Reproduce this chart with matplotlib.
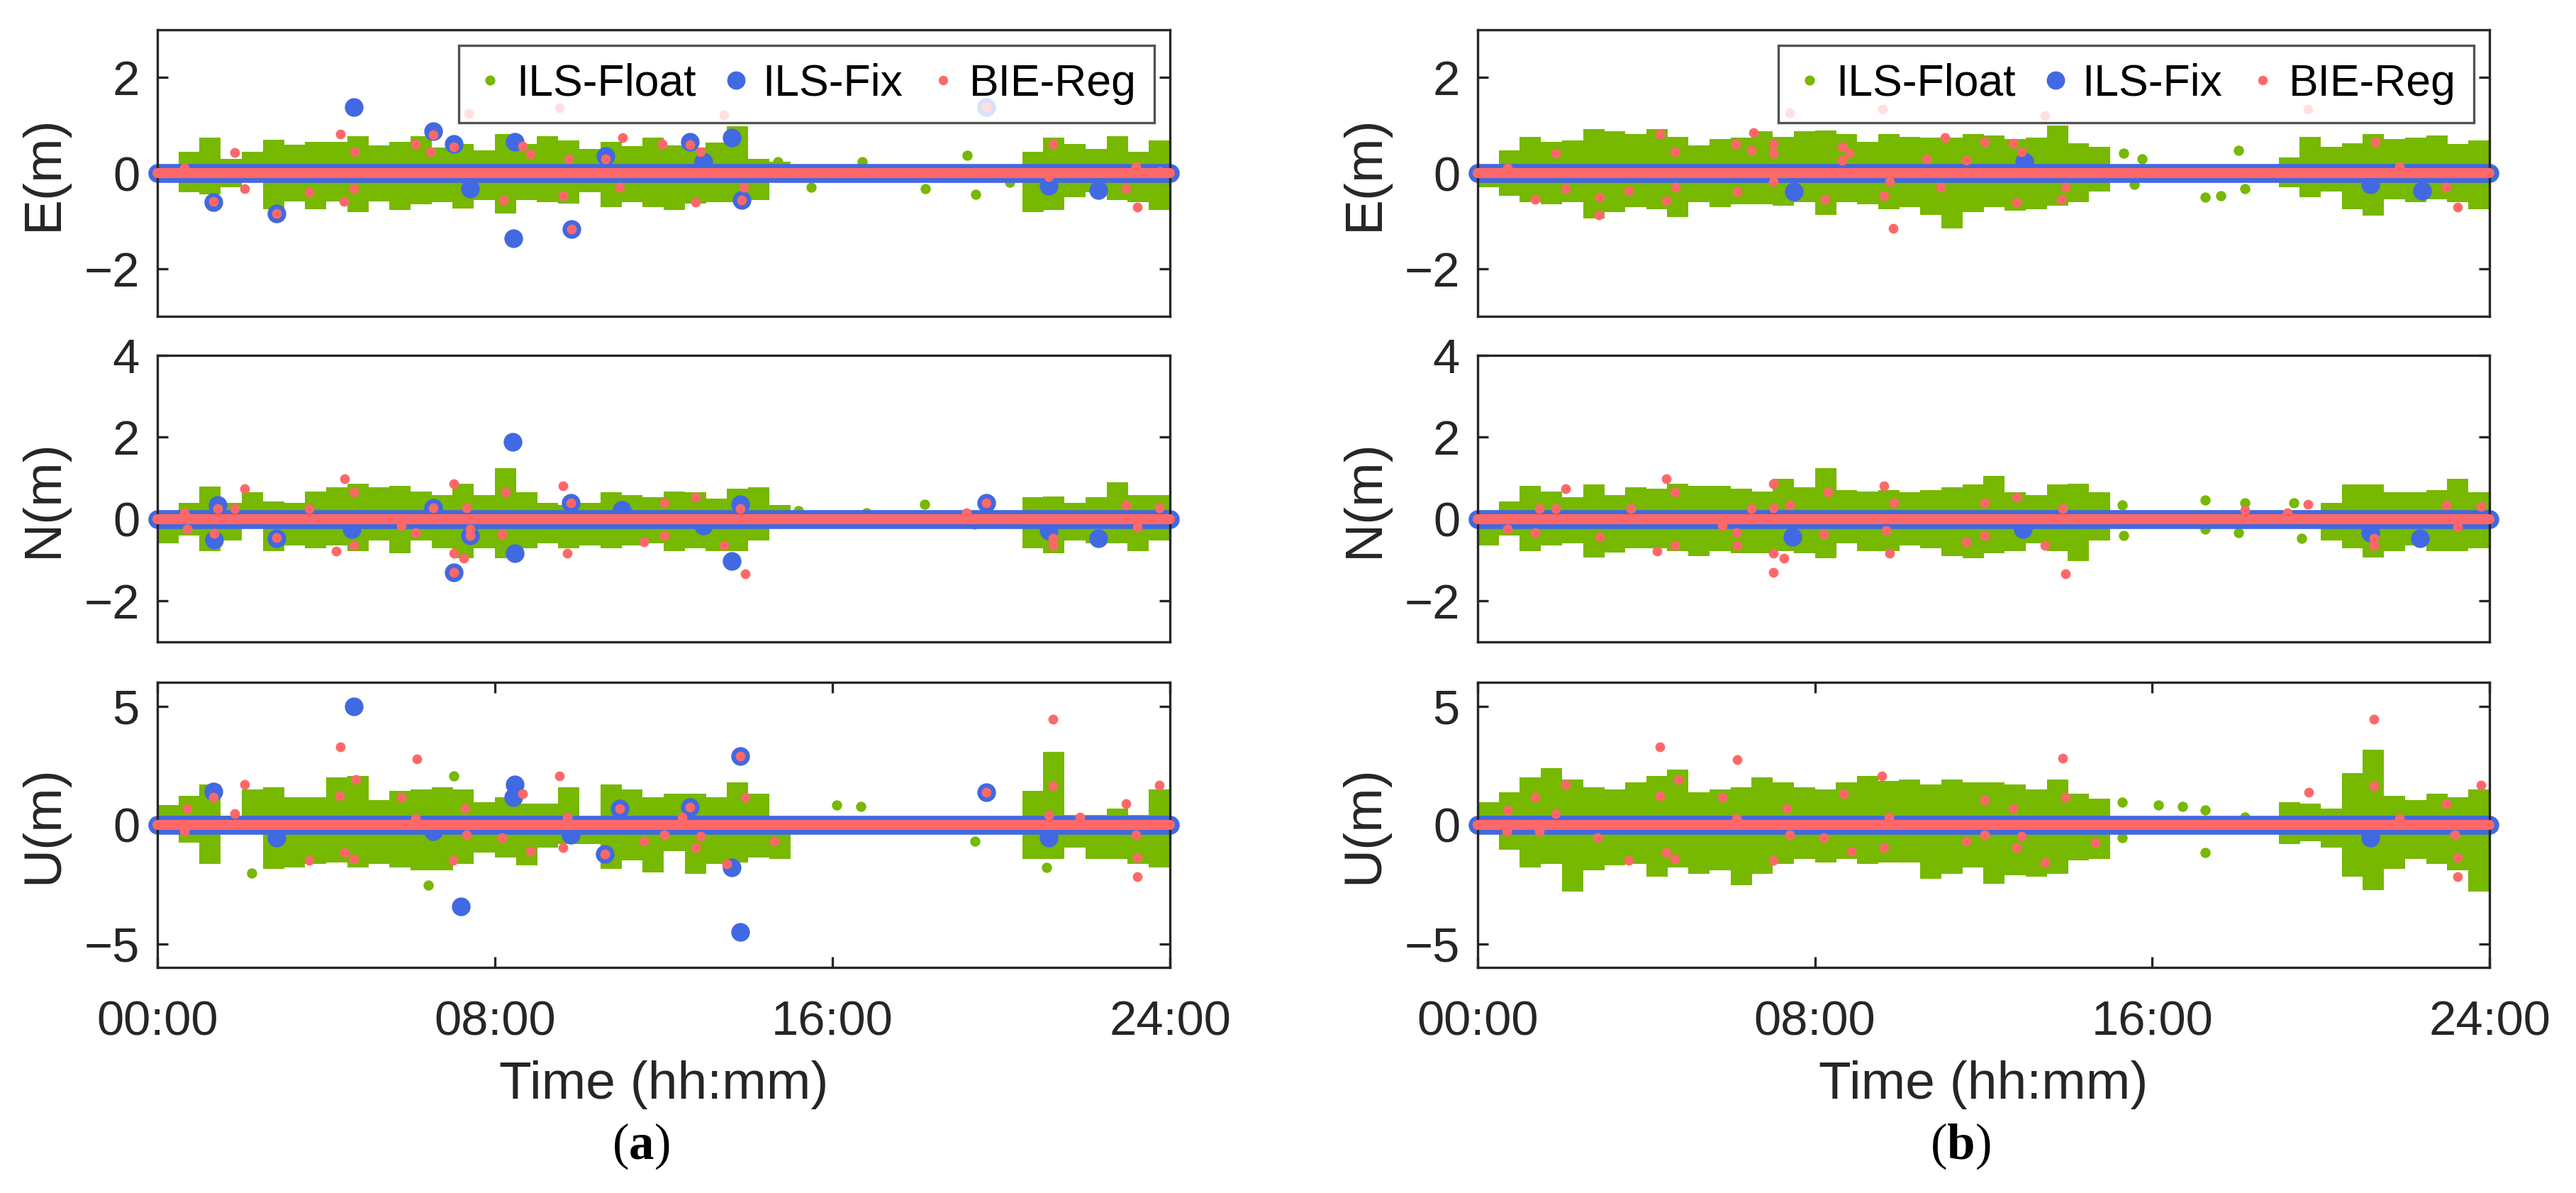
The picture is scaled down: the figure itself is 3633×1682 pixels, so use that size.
import numpy as np
import matplotlib.pyplot as plt
from matplotlib.lines import Line2D

plt.rcParams['font.family'] = ['Liberation Sans', 'DejaVu Sans']
plt.rcParams['mathtext.fontset'] = 'custom'
plt.rcParams['mathtext.bf'] = 'Liberation Serif:bold'
plt.rcParams['mathtext.rm'] = 'Liberation Serif'

# цвета серий
c_float = '#77B800'
c_fix = '#4169E1'
c_reg = '#FF6868'
c_axis = '#262626'

# время, ч: центры 30-минутных интервалов облака ILS-Float
bin_t = np.arange(0.25, 24, 0.5)
tick_pos = [0, 8, 16, 24]
tick_lab = ['00:00', '08:00', '16:00', '24:00']
epoch_t = np.arange(0, 24.01, 0.25)   # эпохи для полосы около нуля
band_level = 0.0

# ---------------- (a) E ----------------
aE_hi = [0.15, 0.45, 0.75, 0.3, 0.45, 0.7, 0.6, 0.65, 0.66, 0.77, 0.58, 0.66,
         0.77, 0.53, 0.61, 0.48, 0.82, 0.61, 0.77, 0.69, 0.5, 0.66, 0.56, 0.74,
         0.58, 0.53, 0.64, 0.98, 0.3, 0.24, 0, 0, 0, 0, 0, 0,
         0, 0, 0, 0, 0.15, 0.45, 0.74, 0.61, 0.5, 0.77, 0.45, 0.69]
aE_lo = [-0.15, -0.4, -0.45, -0.3, -0.2, -0.75, -0.6, -0.75, -0.6, -0.82, -0.6, -0.77,
         -0.66, -0.61, -0.74, -0.56, -0.85, -0.56, -0.61, -0.64, -0.4, -0.72, -0.61, -0.72,
         -0.77, -0.64, -0.61, -0.61, -0.56, -0.15, 0, 0, 0, 0, 0, 0,
         0, 0, 0, 0, -0.15, -0.82, -0.77, -0.5, -0.4, -0.56, -0.61, -0.77]
aE_iso_t = [14.7, 15.5, 16.7, 18.2, 19.2, 19.4, 20.2]
aE_iso_v = [0.24, -0.29, 0.24, -0.32, 0.37, -0.45, -0.2]
aE_fix_t = [1.33, 2.83, 4.65, 6.53, 7.02, 7.42, 8.44, 8.47, 9.82, 10.62, 12.63,
            12.94, 13.61, 13.85, 19.64, 21.13, 22.31]
aE_fix_v = [-0.61, -0.85, 1.38, 0.88, 0.61, -0.32, -1.36, 0.66, -1.17, 0.35, 0.66,
            0.24, 0.74, -0.56, 1.38, -0.27, -0.35]
aE_reg_t = [0.64, 1.84, 2.06, 4.34, 4.68, 4.65, 4.42, 3.59, 6.11, 6.47, 7.38, 8.2,
            8.66, 8.84, 9.53, 9.75, 9.62, 11.02, 10.95, 11.97, 12.75, 12.88, 13.43,
            13.9, 21.22, 21.13, 22.95, 23.23, 23.19, 23.77,
            1.33, 2.83, 6.53, 7.02, 9.82, 10.62, 12.63, 13.85, 19.64]
aE_reg_v = [0.1, 0.43, -0.32, 0.82, 0.45, -0.32, -0.59, -0.4, 0.61, 0.45, 1.25, -0.56,
            0.56, 0.4, 1.36, 0.29, -0.48, 0.74, -0.29, 0.61, -0.61, 0.45, 1.22,
            -0.29, 0.61, -0.08, -0.32, -0.72, 0.13, 0.03,
            -0.6, -0.85, 0.8, 0.55, -1.17, 0.3, 0.6, -0.56, 1.38]

# ---------------- (a) N ----------------
aN_hi = [0.1, 0.4, 0.8, 0.4, 0.65, 0.43, 0.4, 0.68, 0.78, 0.87, 0.78, 0.81,
         0.68, 0.59, 0.87, 0.59, 1.24, 0.65, 0.4, 0.34, 0.4, 0.65, 0.59, 0.53,
         0.68, 0.65, 0.5, 0.75, 0.78, 0.34, 0, 0, 0, 0, 0, 0,
         0, 0, 0, 0, 0, 0.53, 0.56, 0.4, 0.53, 0.9, 0.59, 0.59]
aN_lo = [-0.59, -0.4, -0.78, -0.53, -0.1, -0.78, -0.65, -0.71, -0.65, -0.78, -0.53, -0.84,
         -0.53, -0.71, -0.96, -0.71, -0.96, -0.71, -0.59, -0.71, -0.65, -0.71, -0.65, -0.59,
         -0.78, -0.71, -0.78, -0.78, -0.53, -0.1, 0, 0, 0, 0, 0, 0,
         0, 0, 0, 0, 0, -0.71, -0.84, -0.53, -0.59, -0.59, -0.78, -0.53]
aN_iso_t = [15.2, 16.8, 18.19, 19.36]
aN_iso_v = [0.2, 0.15, 0.37, -0.12]
aN_fix_t = [1.43, 1.34, 2.83, 4.61, 6.53, 7.02, 7.42, 8.42, 8.47, 9.8, 11.0,
            12.94, 13.61, 13.81, 19.64, 21.13, 22.31]
aN_fix_v = [0.34, -0.5, -0.47, -0.25, 0.28, -1.3, -0.4, 1.89, -0.84, 0.4, 0.22,
            -0.16, -1.02, 0.37, 0.4, -0.28, -0.47]
aN_reg_t = [0.64, 0.7, 1.84, 2.06, 3.59, 4.23, 4.44, 4.65, 4.65, 5.78, 6.11, 7.02,
            7.02, 7.26, 7.33, 7.42, 8.17, 8.26, 9.62, 9.71, 11.53, 12.01, 12.01,
            12.76, 13.43, 13.94, 19.18, 21.22, 21.22, 22.95, 23.23, 23.74,
            1.43, 1.34, 2.83, 6.53, 7.02, 7.42, 9.8, 13.81, 19.64]
aN_reg_v = [0.16, -0.25, 0.25, 0.75, 0.25, -0.78, 0.99, 0.65, -0.65, -0.16, -0.34, 0.87,
            -0.84, -0.96, 0.28, -0.25, -0.37, 0.65, 0.81, -0.84, -0.56, 0.4, -0.4,
            0.53, -0.65, -1.34, 0.16, -0.47, -0.65, 0.34, -0.19, 0.28,
            0.25, -0.35, -0.45, 0.28, -1.3, -0.4, 0.4, 0.25, 0.4]

# ---------------- (a) U ----------------
aU_hi = [0.85, 1.23, 1.71, 0.4, 1.5, 1.58, 1.16, 1.16, 1.99, 2.05, 1.03, 1.44,
         1.5, 1.58, 1.5, 0.96, 1.16, 0.89, 0.89, 1.58, 0.2, 1.71, 1.5, 1.16,
         1.3, 1.3, 1.16, 1.78, 1.3, 0.1, 0, 0, 0, 0, 0, 0,
         0, 0, 0, 0, 0, 1.44, 3.08, 0.41, 0.41, 0.68, 0.41, 1.5]
aU_lo = [-0.1, -0.75, -1.64, -0.4, -0.4, -1.85, -1.78, -1.64, -1.58, -1.78, -1.64, -1.78,
         -1.92, -1.92, -1.64, -1.16, -1.37, -1.71, -0.96, -0.82, -0.82, -1.85, -1.5, -1.99,
         -1.1, -2.05, -1.64, -1.58, -1.37, -1.44, 0, 0, 0, 0, 0, 0,
         0, 0, 0, 0, 0, -1.44, -1.44, -0.96, -1.44, -1.44, -1.64, -1.78]
aU_iso_t = [2.23, 6.42, 7.02, 21.08, 16.1, 16.67, 19.37]
aU_iso_v = [-2.03, -2.53, 2.05, -1.78, 0.85, 0.78, -0.68]
aU_fix_t = [1.33, 2.83, 4.65, 6.53, 7.2, 8.47, 8.44, 9.8, 10.6, 10.95, 12.63,
            13.61, 13.81, 13.81, 19.64, 21.13]
aU_fix_v = [1.4, -0.55, 5.0, -0.27, -3.42, 1.71, 1.16, -0.41, -1.23, 0.68, 0.75,
            -1.78, 2.9, -4.52, 1.37, -0.55]
aU_reg_t = [0.7, 0.64, 2.06, 1.84, 3.59, 4.34, 4.32, 4.71, 4.44, 4.65, 5.78, 6.15,
            6.11, 7.0, 7.3, 7.33, 8.17, 8.66, 8.84, 9.53, 9.62, 9.71, 11.53, 12.01,
            12.43, 12.76, 12.88, 13.49, 13.94, 14.63, 21.22, 21.22, 21.13, 21.86,
            22.95, 23.23, 23.23, 23.74, 23.19,
            1.33, 10.6, 10.95, 12.63, 13.81, 19.64]
aU_reg_v = [0.68, -0.27, 1.71, 0.48, -1.5, 3.29, 1.23, 1.92, -1.16, -1.44, 1.16, 2.77,
            0.27, -1.48, 0.68, -0.41, -0.55, 1.3, -1.1, 2.05, -0.96, 0.34, -0.68, -0.41,
            0.34, -0.96, -0.48, -1.64, 1.16, -0.68, 4.45, 1.64, 0.41, 0.34,
            0.89, -1.37, -2.19, 1.67, -0.41,
            1.16, -1.23, 0.68, 0.75, 2.9, 1.37]

# ---------------- (b) E ----------------
bE_hi = [0.1, 0.47, 0.76, 0.66, 0.68, 0.92, 0.87, 0.82, 0.92, 0.76, 0.58, 0.71,
         0.74, 0.87, 0.76, 0.87, 0.89, 0.82, 0.66, 0.82, 0.76, 0.74, 0.74, 0.82,
         0.79, 0.71, 0.74, 1.0, 0.63, 0.55, 0, 0, 0, 0, 0, 0,
         0, 0, 0.32, 0.76, 0.55, 0.63, 0.82, 0.71, 0.74, 0.79, 0.61, 0.68]
bE_lo = [-0.3, -0.47, -0.61, -0.66, -0.61, -0.95, -0.82, -0.71, -0.76, -0.92, -0.61, -0.71,
         -0.66, -0.66, -0.68, -0.61, -0.87, -0.61, -0.66, -0.76, -0.71, -0.87, -1.16, -0.82,
         -0.71, -0.79, -0.76, -0.68, -0.61, -0.39, 0, 0, 0, 0, 0, 0,
         0, 0, -0.3, -0.5, -0.39, -0.76, -0.89, -0.55, -0.61, -0.55, -0.61, -0.76]
bE_iso_t = [15.33, 15.76, 15.57, 17.25, 17.63, 18.05, 18.2]
bE_iso_v = [0.42, 0.29, -0.24, -0.5, -0.47, 0.47, -0.32]
bE_fix_t = [7.5, 12.96, 21.17, 22.41]
bE_fix_v = [-0.39, 0.24, -0.24, -0.37]
bE_reg_t = [0.71, 1.85, 1.36, 2.08, 2.89, 2.87, 3.58, 4.32, 4.67, 4.48, 4.7, 6.16,
            6.12, 6.54, 6.5, 7.02, 7.02, 7.02, 7.4, 8.24, 8.64, 8.81, 8.64, 9.6,
            9.63, 9.77, 9.85, 10.65, 10.98, 11.08, 11.59, 12.03, 12.7, 12.79, 12.9,
            13.46, 13.94, 13.84, 21.3, 21.87, 22.98, 23.25, 19.7]
bE_reg_v = [0.1, 0.42, -0.55, -0.32, -0.5, -0.87, -0.37, 0.82, 0.45, -0.58, -0.29, -0.39,
            0.61, 0.84, 0.47, 0.61, 0.42, -0.18, 1.26, -0.55, 0.55, 0.42, 0.26, 1.33,
            -0.47, -0.18, -1.16, 0.29, -0.29, 0.74, 0.26, 0.66, 0.63, -0.61, 0.45,
            1.21, -0.29, -0.55, 0.66, 0.13, -0.29, -0.71, 1.34]

# ---------------- (b) N ----------------
bN_hi = [0.1, 0.43, 0.81, 0.68, 0.53, 0.84, 0.59, 0.78, 0.75, 0.87, 0.81, 0.81,
         0.75, 0.68, 0.99, 0.78, 1.24, 0.71, 0.68, 0.71, 0.65, 0.71, 0.78, 0.84,
         1.06, 0.65, 0.59, 0.84, 0.87, 0.65, 0, 0, 0, 0, 0, 0,
         0, 0, 0, 0, 0.4, 0.84, 0.84, 0.65, 0.65, 0.71, 0.99, 0.65]
bN_lo = [-0.65, -0.4, -0.78, -0.65, -0.59, -0.93, -0.81, -0.71, -0.71, -0.78, -0.9, -0.78,
         -0.84, -0.84, -0.78, -0.84, -0.96, -0.59, -0.78, -0.78, -0.65, -0.71, -0.9, -0.96,
         -0.84, -0.78, -0.59, -0.78, -1.02, -0.53, 0, 0, 0, 0, 0, 0,
         0, 0, 0, 0, -0.53, -0.71, -0.93, -0.78, -0.65, -0.78, -0.78, -0.71]
bN_iso_t = [15.28, 15.33, 17.25, 17.25, 18.2, 18.05, 19.35, 19.54]
bN_iso_v = [0.34, -0.4, 0.47, -0.25, 0.4, -0.34, 0.4, -0.47]
bN_fix_t = [7.46, 12.94, 21.17, 22.35]
bN_fix_v = [-0.43, -0.25, -0.34, -0.47]
bN_reg_t = [2.08, 0.71, 1.36, 1.47, 1.85, 2.89, 3.63, 4.25, 4.47, 4.67, 4.67, 5.81,
            6.14, 6.16, 6.5, 7.02, 7.02, 7.02, 7.02, 7.27, 7.4, 8.2, 8.3, 9.63,
            9.77, 9.88, 9.69, 11.59, 12.03, 12.03, 12.79, 13.46, 13.88, 13.94, 18.2,
            19.2, 19.7, 21.26, 21.26, 22.98, 23.25, 23.79]
bN_reg_v = [0.75, -0.25, -0.34, 0.25, 0.25, -0.43, 0.25, -0.78, 0.99, 0.65, -0.65, -0.16,
            -0.34, -0.65, 0.25, 0.87, 0.28, -0.84, -1.3, -0.96, 0.34, -0.37, 0.65, 0.81,
            -0.84, 0.4, -0.28, -0.56, 0.4, -0.4, 0.53, -0.65, 0.25, -1.34, 0.22,
            0.16, 0.37, -0.47, -0.65, 0.34, -0.19, 0.31]

# ---------------- (b) U ----------------
bU_hi = [0.96, 1.37, 1.99, 2.4, 1.92, 1.58, 1.5, 1.78, 2.05, 2.33, 1.37, 1.5,
         1.58, 1.99, 1.78, 1.58, 1.5, 1.78, 2.05, 1.85, 1.92, 1.71, 1.92, 1.78,
         1.78, 1.71, 1.5, 1.92, 1.3, 1.1, 0, 0, 0, 0, 0, 0,
         0, 0, 0.96, 0.89, 0.68, 2.19, 3.15, 1.23, 1.03, 1.3, 1.16, 1.5]
bU_lo = [-0.27, -1.03, -1.78, -1.64, -2.81, -1.92, -1.71, -1.64, -2.19, -1.78, -2.05, -1.92,
         -2.53, -2.05, -1.64, -1.44, -1.58, -1.44, -1.64, -1.58, -1.58, -2.26, -2.05, -1.78,
         -2.47, -2.12, -2.19, -2.05, -1.5, -1.44, 0, 0, 0, 0, 0, 0,
         0, 0, -0.82, -0.68, -0.96, -2.19, -2.74, -1.85, -1.44, -1.64, -1.92, -2.81]
bU_iso_t = [15.28, 15.28, 16.14, 16.71, 17.25, 17.25, 18.2]
bU_iso_v = [0.96, -0.55, 0.85, 0.78, 0.62, -1.16, 0.34]
bU_fix_t = [21.17]
bU_fix_v = [-0.55]
bU_reg_t = [0.71, 0.69, 1.36, 1.47, 1.85, 2.08, 2.85, 3.58, 4.32, 4.32, 4.76, 4.47,
            4.67, 5.81, 6.16, 6.14, 7.02, 7.34, 7.4, 8.2, 8.68, 8.87, 9.58, 9.64,
            9.75, 11.59, 12.03, 12.03, 12.7, 12.79, 12.9, 13.46, 13.88, 13.94, 14.65,
            19.71, 21.26, 21.26, 21.87, 22.98, 23.25, 23.25, 23.79, 23.17]
bU_reg_v = [0.62, -0.27, 1.16, -0.27, 0.48, 1.71, -0.55, -1.5, 3.29, 1.23, 1.92, -1.16,
            -1.44, 1.16, 2.74, 0.27, -1.48, 0.68, -0.41, -0.55, 1.3, -1.1, 2.05, -0.96,
            0.34, -0.68, 1.03, -0.41, 0.68, -0.96, -0.48, -1.58, 2.81, 1.16, -0.75,
            1.37, 4.45, 1.64, 0.27, 0.89, -1.37, -2.19, 1.67, -0.41]

panels = {
    'a': [('E', (-3, 3), [-2, 0, 2], aE_hi, aE_lo, aE_iso_t, aE_iso_v, aE_fix_t, aE_fix_v, aE_reg_t, aE_reg_v),
          ('N', (-3, 4), [-2, 0, 2, 4], aN_hi, aN_lo, aN_iso_t, aN_iso_v, aN_fix_t, aN_fix_v, aN_reg_t, aN_reg_v),
          ('U', (-6, 6), [-5, 0, 5], aU_hi, aU_lo, aU_iso_t, aU_iso_v, aU_fix_t, aU_fix_v, aU_reg_t, aU_reg_v)],
    'b': [('E', (-3, 3), [-2, 0, 2], bE_hi, bE_lo, bE_iso_t, bE_iso_v, bE_fix_t, bE_fix_v, bE_reg_t, bE_reg_v),
          ('N', (-3, 4), [-2, 0, 2, 4], bN_hi, bN_lo, bN_iso_t, bN_iso_v, bN_fix_t, bN_fix_v, bN_reg_t, bN_reg_v),
          ('U', (-6, 6), [-5, 0, 5], bU_hi, bU_lo, bU_iso_t, bU_iso_v, bU_fix_t, bU_fix_v, bU_reg_t, bU_reg_v)],
}

W, H = 3633, 1682
fig = plt.figure(figsize=(W / 300, H / 300), dpi=300)

col_x = {'a': (222, 1650), 'b': (2084, 3511)}
row_y = [(42, 446), (501, 905), (962, 1364)]

for key, rows in panels.items():
    x0, x1 = col_x[key]
    for r, (comp, ylim, yt, hi, lo, iso_t, iso_v, fix_t, fix_v, reg_t, reg_v) in enumerate(rows):
        y0, y1 = row_y[r]
        ax = fig.add_axes([x0 / W, 1 - y1 / H, (x1 - x0) / W, (y1 - y0) / H])

        hi = np.array(hi)
        lo = np.array(lo)
        m = (hi != 0) | (lo != 0)
        # облако ILS-Float: размах значений в каждом получасовом интервале
        ax.vlines(bin_t[m], lo[m], hi[m], color=c_float, lw=7.2, capstyle='butt', zorder=1)
        ax.scatter(iso_t, iso_v, s=12, color=c_float, lw=0, zorder=1)
        # полоса ILS-Fix около нуля
        ax.plot(epoch_t, np.full_like(epoch_t, band_level), color=c_fix, lw=6.4,
                solid_capstyle='round', clip_on=False, zorder=2)
        ax.scatter(fix_t, fix_v, s=40, color=c_fix, lw=0, zorder=3)
        ax.plot(epoch_t, np.full_like(epoch_t, band_level), color=c_reg, lw=3.4,
                solid_capstyle='round', clip_on=False, zorder=4)
        ax.scatter(reg_t, reg_v, s=11, color=c_reg, lw=0, zorder=5)

        ax.set_xlim(0, 24)
        ax.set_ylim(*ylim)
        ax.set_yticks(yt)
        ax.set_ylabel(comp + '(m)', fontsize=18, color=c_axis)
        ax.yaxis.set_label_coords(-0.088, 0.5)
        for s in ax.spines.values():
            s.set_linewidth(0.8)
            s.set_color(c_axis)
        ax.tick_params(axis='y', direction='in', length=3.6, width=0.8, right=True,
                       labelsize=16.5, labelcolor=c_axis, color=c_axis, pad=6)
        if r < 2:
            ax.set_xticks([])
        else:
            ax.set_xticks(tick_pos)
            ax.set_xticklabels(tick_lab)
            ax.tick_params(axis='x', direction='in', length=3.6, width=0.8, top=True,
                           labelsize=16.5, labelcolor=c_axis, color=c_axis, pad=11)
            ax.set_xlabel('Time (hh:mm)', fontsize=18, color=c_axis, labelpad=5)
        if r == 0:
            hs = [Line2D([], [], ls='none', marker='o', ms=3.4, mew=0, color=c_float),
                  Line2D([], [], ls='none', marker='o', ms=6.2, mew=0, color=c_fix),
                  Line2D([], [], ls='none', marker='o', ms=3.2, mew=0, color=c_reg)]
            leg = ax.legend(hs, ['ILS-Float', 'ILS-Fix', 'BIE-Reg'], ncol=3, loc='upper right',
                            fontsize=15, frameon=True, fancybox=False, borderaxespad=0.35,
                            handlelength=0.6, handletextpad=0.3, columnspacing=0.6,
                            borderpad=0.4)
            leg.get_frame().set_edgecolor(c_axis)
            leg.get_frame().set_linewidth(0.8)
            leg.set_zorder(10)

    fig.text((x0 + x1) / 2 / W - 0.009, 1 - 1616 / H, r'($\mathbf{' + key + r'}$)',
             family='Liberation Serif', fontsize=17, ha='center', va='center', color='black')

fig.savefig('out.png', dpi=300)
